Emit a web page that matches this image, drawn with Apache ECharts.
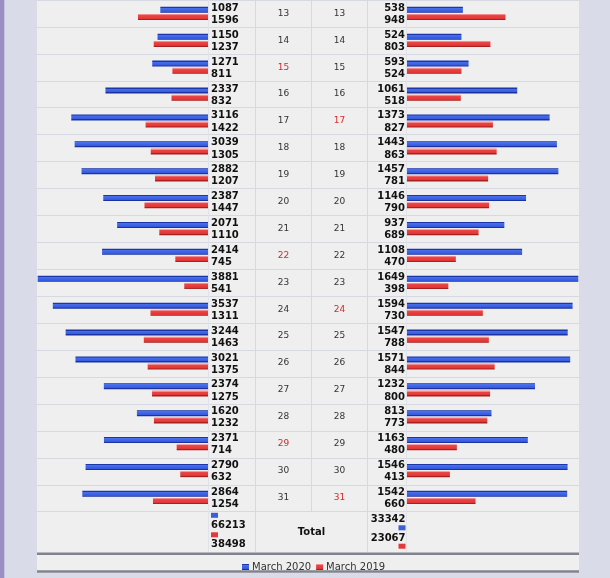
<!DOCTYPE html>
<html>
<head>
<meta charset="utf-8">
<script src="https://cdn.jsdelivr.net/npm/echarts@6/dist/echarts.min.js"></script>
<style>
    html, body {margin: 0; padding: 0; background: #d9dbe8;}
    #main {width: 610px; height: 578px;}
</style>
</head>
<body>
<div id="main"></div>
<script>
// data
var days = ['13', '14', '15', '16', '17', '18', '19', '20', '21', '22', '23', '24', '25', '26', '27', '28', '29', '30', '31'];
var leftMarch2020 = [1087, 1150, 1271, 2337, 3116, 3039, 2882, 2387, 2071, 2414, 3881, 3537, 3244, 3021, 2374, 1620, 2371, 2790, 2864];
var leftMarch2019 = [1596, 1237, 811, 832, 1422, 1305, 1207, 1447, 1110, 745, 541, 1311, 1463, 1375, 1275, 1232, 714, 632, 1254];
var rightMarch2020 = [538, 524, 593, 1061, 1373, 1443, 1457, 1146, 937, 1108, 1649, 1594, 1547, 1571, 1232, 813, 1163, 1546, 1542];
var rightMarch2019 = [948, 803, 524, 518, 827, 863, 781, 790, 689, 470, 398, 730, 788, 844, 800, 773, 480, 413, 660];
var sundays2020 = [15, 22, 29];
var sundays2019 = [17, 24, 31];
var totals2020 = [66213, 33342];
var totals2019 = [38498, 23067];
var seriesNames = ['March 2020', 'March 2019'];

var FONT = '"DejaVu Sans", Verdana, sans-serif';

// bars: dark edge lines, bright body
var blueFill = new echarts.graphic.LinearGradient(0, 0, 0, 1, [
    {offset: 0, color: '#1a36a8'},
    {offset: 0.17, color: '#1a36a8'},
    {offset: 0.2, color: '#4a70ec'},
    {offset: 0.8, color: '#3358dc'},
    {offset: 0.83, color: '#1a33a0'},
    {offset: 1, color: '#1a33a0'}
]);
var redFill = new echarts.graphic.LinearGradient(0, 0, 0, 1, [
    {offset: 0, color: '#f58a8a'},
    {offset: 0.17, color: '#f58a8a'},
    {offset: 0.2, color: '#ec4646'},
    {offset: 0.8, color: '#e03434'},
    {offset: 0.83, color: '#a82020'},
    {offset: 1, color: '#a82020'}
]);

function dayColor(list) {
    return function (value) {
        return list.indexOf(+value) >= 0 ? '#d42a2a' : '#333';
    };
}

function valueLabel(pos, dist, dy) {
    return {
        show: true,
        position: pos,
        distance: dist,
        offset: [0, dy],
        color: '#111',
        fontSize: 10,
        fontWeight: 'bold',
        fontFamily: FONT
    };
}

function vline(x, y1, y2, color) {
    return {type: 'line', z: 1, silent: true,
        shape: {x1: x, y1: y1, x2: x, y2: y2},
        style: {stroke: color, lineWidth: 1}};
}

function txt(s, x, y, align) {
    return {type: 'text', z: 5, silent: true,
        style: {text: String(s), x: x, y: y, align: align, verticalAlign: 'middle',
            textAlign: align, textVerticalAlign: 'middle',
            font: 'bold 10px ' + FONT, fill: '#111'}};
}

function square(x, y, color) {
    return {type: 'rect', z: 5, silent: true, shape: {x: x, y: y, width: 7, height: 5}, style: {fill: color}};
}

var myChart = echarts.init(document.getElementById('main'));

var option = {
    backgroundColor: '#d9dbe8',
    animation: false,
    textStyle: {fontFamily: FONT},
    legend: {
        data: seriesNames,
        left: 237,
        top: 557,
        itemWidth: 7,
        itemHeight: 6,
        itemGap: 5,
        icon: 'rect',
        textStyle: {fontSize: 10, color: '#333', fontFamily: FONT, padding: [0, 0, 0, -2]}
    },
    graphic: [
        // page frame
        {type: 'rect', z: -2, silent: true, shape: {x: 0, y: 0, width: 4.3, height: 578}, style: {fill: '#9a8fc2'}},
        {type: 'rect', z: -2, silent: true, shape: {x: 37, y: 0, width: 542, height: 573}, style: {fill: '#efefef'}},
        {type: 'rect', z: 1, silent: true, shape: {x: 37, y: 552.5, width: 542, height: 2.5}, style: {fill: '#80848e'}},
        {type: 'rect', z: 1, silent: true, shape: {x: 37, y: 570.3, width: 542, height: 2.5}, style: {fill: '#80848e'}},
        {type: 'line', z: 1, silent: true, shape: {x1: 37, y1: 511.5, x2: 579, y2: 511.5}, style: {stroke: '#d6d8e2', lineWidth: 1}},
        // column separators
        vline(208.5, 0, 552, '#e2e3ea'),
        vline(406.5, 0, 552, '#e2e3ea'),
        vline(255.5, 0, 552, '#d6d8e2'),
        vline(367.5, 0, 552, '#d6d8e2'),
        vline(311.5, 0, 511.5, '#d6d8e2'),
        // total row
        {type: 'text', z: 5, silent: true,
            style: {text: 'Total', x: 311.5, y: 532.3, align: 'center', verticalAlign: 'middle',
                textAlign: 'center', textVerticalAlign: 'middle', font: 'bold 10px ' + FONT, fill: '#111'}},
        square(211, 512.8, '#3a5fd8'),
        txt(totals2020[0], 211, 525.7, 'left'),
        square(211, 532.3, '#e23a3a'),
        txt(totals2019[0], 211, 544.2, 'left'),
        txt(totals2020[1], 405.5, 519.3, 'right'),
        square(398.5, 525.3, '#3a5fd8'),
        txt(totals2019[1], 405.5, 538.7, 'right'),
        square(398.5, 543.7, '#e23a3a')
    ],
    grid: [
        {left: 37, top: -1.3, width: 542, height: 513},
        {left: 37.7, top: -2.1, width: 170.3, height: 513},
        {left: 407, top: -2.1, width: 171.3, height: 513}
    ],
    xAxis: [
        {gridIndex: 0, type: 'value', show: false},
        {gridIndex: 1, type: 'value', inverse: true, min: 0, max: Math.max.apply(null, leftMarch2020.concat(leftMarch2019)), show: false},
        {gridIndex: 2, type: 'value', min: 0, max: Math.max.apply(null, rightMarch2020.concat(rightMarch2019)), show: false}
    ],
    yAxis: [
        {gridIndex: 0, type: 'category', data: days, inverse: true,
            axisLine: {show: false}, axisTick: {show: false}, axisLabel: {show: false},
            splitLine: {show: true, lineStyle: {color: '#d6d8e2', width: 1}}},
        {gridIndex: 1, type: 'category', data: days, inverse: true, position: 'right',
            axisLine: {show: false}, axisTick: {show: false},
            axisLabel: {align: 'center', margin: 75.5, fontSize: 9, fontFamily: FONT,
                padding: [4, 0, 0, 0], color: dayColor(sundays2020)}},
        {gridIndex: 2, type: 'category', data: days, inverse: true, position: 'left',
            axisLine: {show: false}, axisTick: {show: false},
            axisLabel: {align: 'center', margin: 67.5, fontSize: 9, fontFamily: FONT,
                padding: [4, 0, 0, 0], color: dayColor(sundays2019)}}
    ],
    series: [
        {name: seriesNames[0], type: 'bar', xAxisIndex: 1, yAxisIndex: 1, data: leftMarch2020,
            barWidth: 6, barGap: '20%', itemStyle: {color: blueFill},
            label: valueLabel('right', 3, -1.5)},
        {name: seriesNames[1], type: 'bar', xAxisIndex: 1, yAxisIndex: 1, data: leftMarch2019,
            barWidth: 6, barGap: '20%', itemStyle: {color: redFill},
            label: valueLabel('right', 3, 3.5)},
        {name: seriesNames[0], type: 'bar', xAxisIndex: 2, yAxisIndex: 2, data: rightMarch2020,
            barWidth: 6, barGap: '20%', itemStyle: {color: blueFill},
            label: valueLabel('left', 2, -1.5)},
        {name: seriesNames[1], type: 'bar', xAxisIndex: 2, yAxisIndex: 2, data: rightMarch2019,
            barWidth: 6, barGap: '20%', itemStyle: {color: redFill},
            label: valueLabel('left', 2, 3.5)}
    ]
};

myChart.setOption(option);
</script>
</body>
</html>
